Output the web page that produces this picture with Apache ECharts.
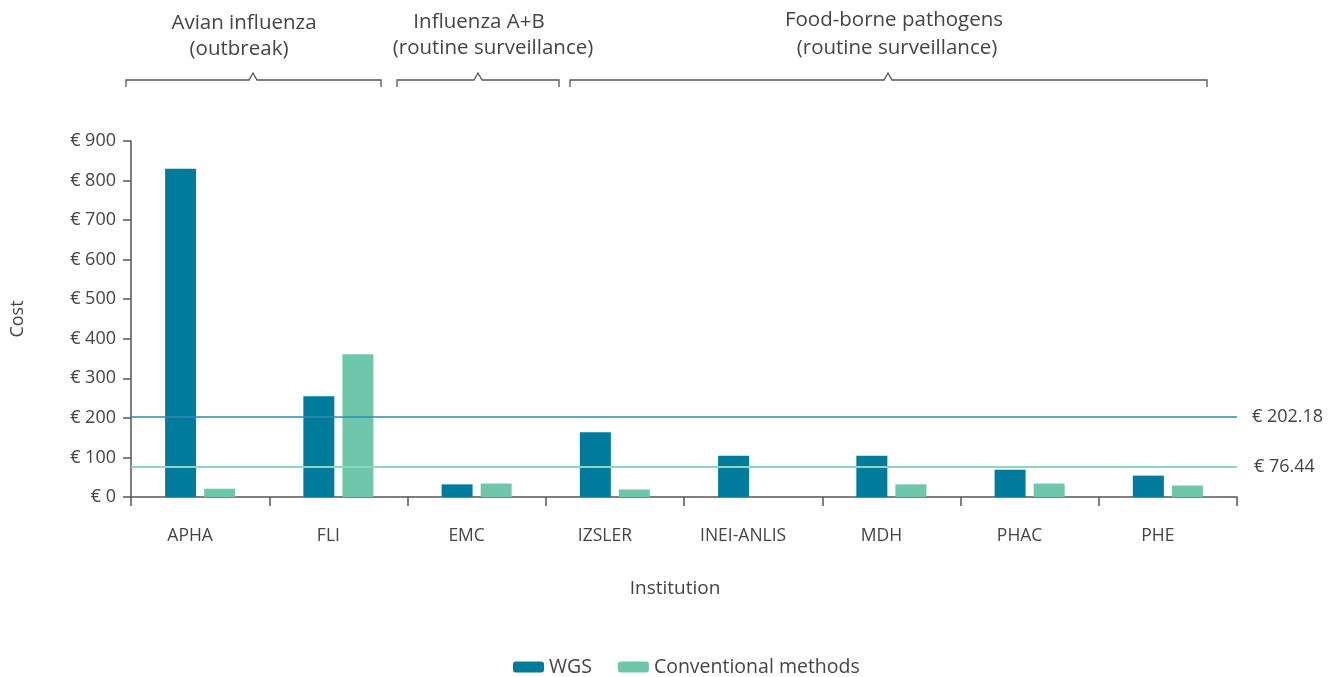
<!DOCTYPE html>
<html>
<head>
<meta charset="utf-8">
<script src="https://cdn.jsdelivr.net/npm/echarts@6/dist/echarts.min.js"></script>
<style>html,body{margin:0;padding:0;background:#fff}#c{width:1338px;height:677px}</style>
</head>
<body>
<div id="c"></div>
<script>
const categories = ['APHA', 'FLI', 'EMC', 'IZSLER', 'INEI-ANLIS', 'MDH', 'PHAC', 'PHE'];
const wgsValues = [830, 255, 32, 164, 104, 104, 69, 54];
const conventionalValues = [21, 361, 34, 19, 0, 32, 34, 29];
const referenceLines = [202.18, 76.44];
const yTicks = [0, 900, 100];
const groupLabels = [
  ['Avian influenza', '(outbreak)'],
  ['Influenza A+B', '(routine surveillance)'],
  ['Food-borne pathogens', '(routine surveillance)']
];

const FONT = '"Open Sans", "Noto Sans", sans-serif';
const TXT = '#444';
const AX = '#555';

const chart = echarts.init(document.getElementById('c'), null, {renderer: 'canvas'});

function bracket(x1, x2, xm, y) {
  return {
    type: 'polyline',
    shape: { points: [[x1, y + 7], [x1, y], [xm - 4, y], [xm, y - 7], [xm + 4, y], [x2, y], [x2, y + 7]] },
    style: { stroke: AX, lineWidth: 1.3, fill: null }
  };
}
function label(text, x, y) {
  return { type: 'text', x: x, y: y, style: { text: text, font: '20.5px ' + FONT, fill: TXT, textAlign: 'center', textVerticalAlign: 'middle' } };
}

chart.setOption({
  animation: false,
  textStyle: { fontFamily: FONT },
  grid: { left: 131, right: 101, top: 141, bottom: 180, containLabel: false },
  legend: {
    left: 508, top: 652,
    itemWidth: 31, itemHeight: 11, itemGap: 26,
    textStyle: { fontSize: 19.5, color: TXT, fontFamily: FONT },
    data: ['WGS', 'Conventional methods']
  },
  xAxis: {
    type: 'category',
    data: categories,
    name: 'Institution',
    nameLocation: 'middle',
    nameGap: 82,
    nameTextStyle: { fontSize: 19, color: TXT, padding: [0, 18, 0, 0] },
    axisLine: { lineStyle: { color: AX, width: 1.5 } },
    axisTick: { show: true, length: 9, lineStyle: { color: AX, width: 1.5 } },
    axisLabel: { margin: 30, fontSize: 17.5, color: TXT, padding: [0, 20, 0, 0] }
  },
  yAxis: {
    type: 'value',
    min: yTicks[0], max: yTicks[1], interval: yTicks[2],
    name: 'Cost',
    nameLocation: 'middle',
    nameGap: 104,
    nameTextStyle: { fontSize: 18, color: TXT },
    splitLine: { show: false },
    axisLine: { show: true, lineStyle: { color: AX, width: 1.5 } },
    axisTick: { show: true, length: 8, lineStyle: { color: AX, width: 1.5 } },
    axisLabel: { margin: 15, fontSize: 18, color: TXT, formatter: '€ {value}' }
  },
  series: [
    {
      name: 'WGS', type: 'bar', data: wgsValues,
      barWidth: 31, barGap: '26%',
      itemStyle: { color: '#017b9c' },
      markLine: {
        symbol: 'none', silent: true,
        lineStyle: { color: '#2e8cab', width: 1.6, type: 'solid' },
        label: { position: 'end', distance: 15, fontSize: 18, color: TXT, formatter: '€ ' + referenceLines[0].toFixed(2) },
        data: [{ yAxis: referenceLines[0] }]
      }
    },
    {
      name: 'Conventional methods', type: 'bar', data: conventionalValues,
      barWidth: 31,
      itemStyle: { color: '#6ec6ab' },
      markLine: {
        symbol: 'none', silent: true,
        lineStyle: { color: '#8dd5bd', width: 2, type: 'solid' },
        label: { position: 'end', distance: 17, fontSize: 18, color: TXT, formatter: '€ ' + referenceLines[1].toFixed(2) },
        data: [{ yAxis: referenceLines[1] }]
      }
    }
  ],
  graphic: [
    bracket(126, 381, 253, 80),
    bracket(397, 559, 478, 80),
    bracket(570, 1207, 888, 80),
    label(groupLabels[0][0], 244, 23),
    label(groupLabels[0][1], 239, 49),
    label(groupLabels[1][0], 479, 22),
    label(groupLabels[1][1], 493, 48),
    label(groupLabels[2][0], 894, 20),
    label(groupLabels[2][1], 897, 48)
  ]
});
</script>
</body>
</html>
